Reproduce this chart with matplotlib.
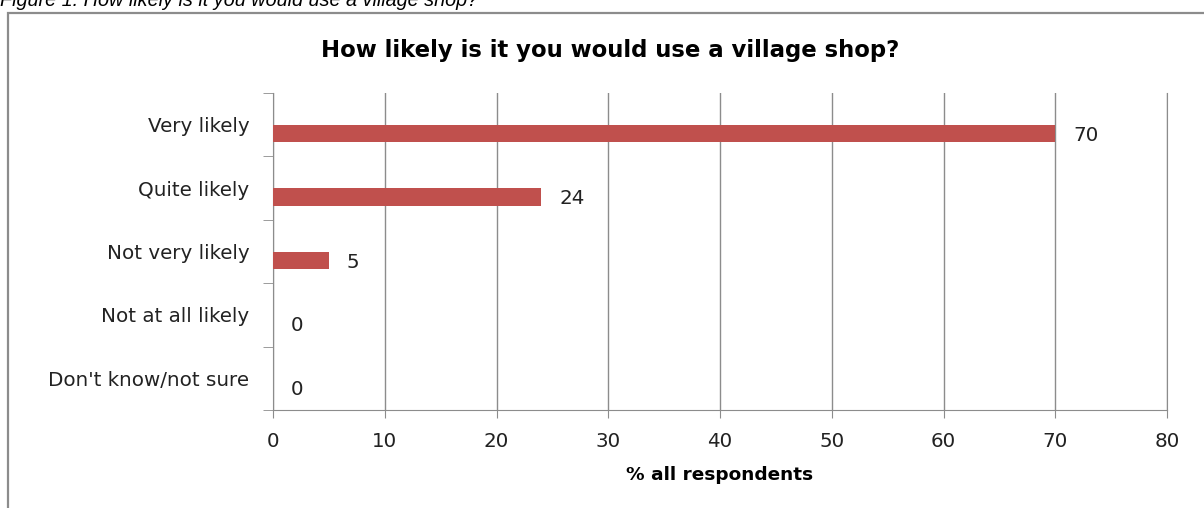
import numpy as np
from matplotlib import pyplot as plt
from matplotlib.patches import Rectangle

categories = ['Very likely', 'Quite likely', 'Not very likely', 'Not at all likely', "Don't know/not sure"]
values = [70, 24, 5, 0, 0]
x_ticks = [0, 10, 20, 30, 40, 50, 60, 70, 80]

plt.rcParams['font.family'] = ['DejaVu Sans']

fig = plt.figure(figsize=(12.04, 5.08), dpi=100)

# chart border and the clipped caption above it
fig.patches.append(Rectangle((8 / 1204, -0.05), 1.1, 1 - 13 / 508 + 0.05, transform=fig.transFigure,
                             fill=False, edgecolor='#8c8c8c', linewidth=1.6))
fig.text(0.0, 1 - 6 / 508, 'Figure 1: How likely is it you would use a village shop?',
         family='Liberation Sans', style='italic', fontsize=14.3, va='baseline', ha='left')

ax = fig.add_axes([273 / 1204, 98 / 508, 894 / 1204, 317 / 508])

pos = np.arange(len(categories))
bar_offset = 0.14  # bars sit slightly below the category centre
ax.barh(pos + bar_offset, values, height=0.27, color='#C0504D', zorder=3)

for p, v in zip(pos, values):
    ax.text(v + 1.6, p + bar_offset + 0.03, str(v), va='center', ha='left', fontsize=14.3, color='#222222')

ax.set_xlim(0, 80)
ax.set_ylim(len(categories) - 0.5, -0.5)
ax.set_xticks(x_ticks)
ax.set_yticks(pos)
ax.set_yticklabels(categories, fontsize=14.3, color='#222222')
ax.set_yticks(np.arange(len(categories) + 1) - 0.5, minor=True)
ax.tick_params(axis='y', which='major', length=0, pad=17)
ax.tick_params(axis='y', which='minor', length=7, color='#8c8c8c', direction='out')
ax.tick_params(axis='x', length=6, color='#8c8c8c', labelsize=14.3, labelcolor='#222222', pad=10)

ax.grid(axis='x', color='#8c8c8c', linewidth=1, zorder=0)
ax.spines['top'].set_visible(False)
for s in ['left', 'bottom', 'right']:
    ax.spines[s].set_color('#8c8c8c')

ax.set_xlabel('% all respondents', fontsize=13.3, fontweight='bold', labelpad=11)
fig.text(610 / 1204, 1 - 57 / 508, 'How likely is it you would use a village shop?',
         fontsize=16.4, fontweight='bold', ha='center', va='baseline')

fig.savefig('out.png', dpi=100)
